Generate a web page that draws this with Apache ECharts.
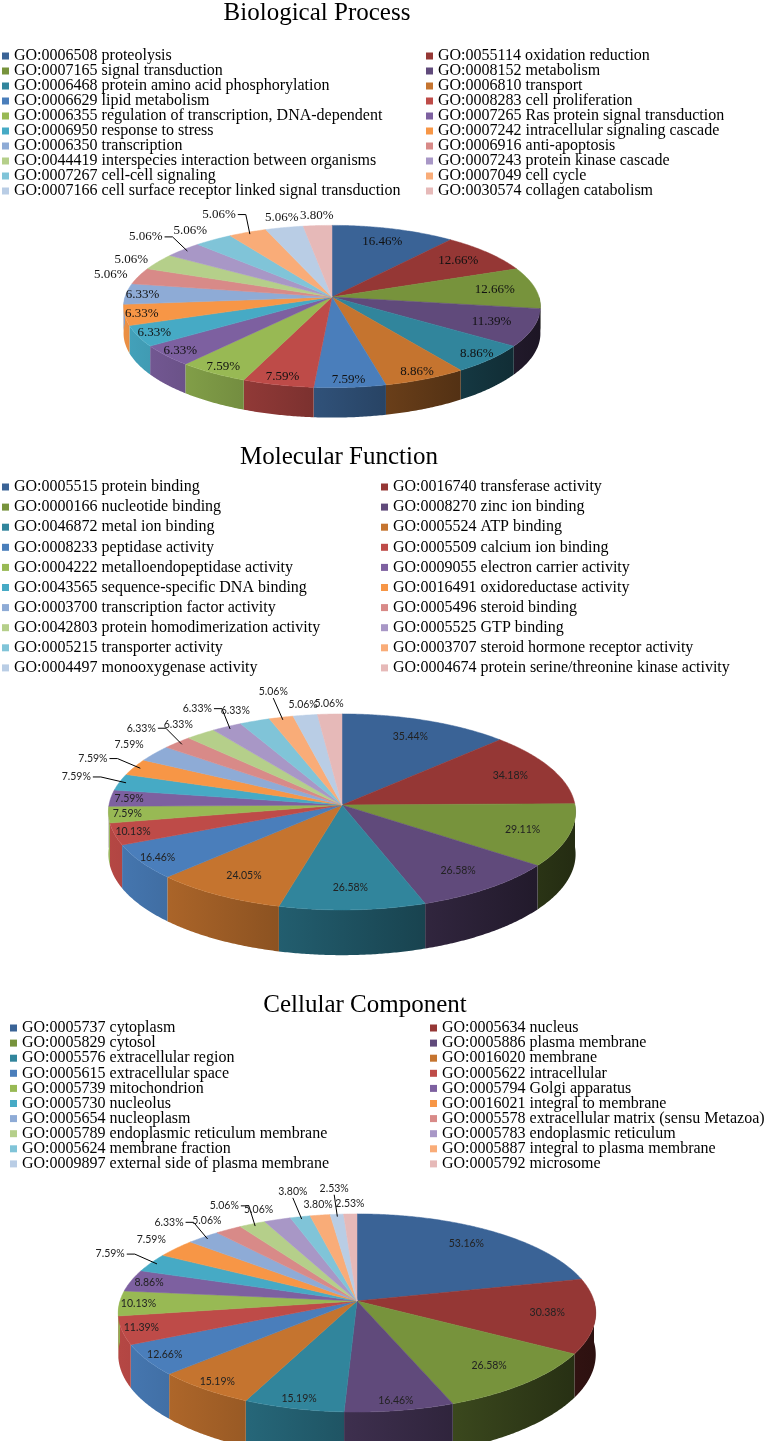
<!DOCTYPE html>
<html>
<head>
<meta charset="utf-8">
<script src="https://cdn.jsdelivr.net/npm/echarts@6/dist/echarts.min.js"></script>
<style>
  html, body { margin: 0; padding: 0; background: #fff; }
  #chart { width: 772px; height: 1441px; }
</style>
</head>
<body>
<div id="chart"></div>
<script>
// Biological Process
const bpNames = [
  'GO:0006508 proteolysis',
  'GO:0055114 oxidation reduction',
  'GO:0007165 signal transduction',
  'GO:0008152 metabolism',
  'GO:0006468 protein amino acid phosphorylation',
  'GO:0006810 transport',
  'GO:0006629 lipid metabolism',
  'GO:0008283 cell proliferation',
  'GO:0006355 regulation of transcription, DNA-dependent',
  'GO:0007265 Ras protein signal transduction',
  'GO:0006950 response to stress',
  'GO:0007242 intracellular signaling cascade',
  'GO:0006350 transcription',
  'GO:0006916 anti-apoptosis',
  'GO:0044419 interspecies interaction between organisms',
  'GO:0007243 protein kinase cascade',
  'GO:0007267 cell-cell signaling',
  'GO:0007049 cell cycle',
  'GO:0007166 cell surface receptor linked signal transduction',
  'GO:0030574 collagen catabolism'
];
const bpValues = [16.46, 12.66, 12.66, 11.39, 8.86, 8.86, 7.59, 7.59, 7.59, 6.33,
                  6.33, 6.33, 6.33, 5.06, 5.06, 5.06, 5.06, 5.06, 5.06, 3.80];

// Molecular Function
const mfNames = [
  'GO:0005515 protein binding',
  'GO:0016740 transferase activity',
  'GO:0000166 nucleotide binding',
  'GO:0008270 zinc ion binding',
  'GO:0046872 metal ion binding',
  'GO:0005524 ATP binding',
  'GO:0008233 peptidase activity',
  'GO:0005509 calcium ion binding',
  'GO:0004222 metalloendopeptidase activity',
  'GO:0009055 electron carrier activity',
  'GO:0043565 sequence-specific DNA binding',
  'GO:0016491 oxidoreductase activity',
  'GO:0003700 transcription factor activity',
  'GO:0005496 steroid binding',
  'GO:0042803 protein homodimerization activity',
  'GO:0005525 GTP binding',
  'GO:0005215 transporter activity',
  'GO:0003707 steroid hormone receptor activity',
  'GO:0004497 monooxygenase activity',
  'GO:0004674 protein serine/threonine kinase activity'
];
const mfValues = [35.44, 34.18, 29.11, 26.58, 26.58, 24.05, 16.46, 10.13, 7.59, 7.59,
                  7.59, 7.59, 7.59, 6.33, 6.33, 6.33, 6.33, 5.06, 5.06, 5.06];

// Cellular Component
const ccNames = [
  'GO:0005737 cytoplasm',
  'GO:0005634 nucleus',
  'GO:0005829 cytosol',
  'GO:0005886 plasma membrane',
  'GO:0005576 extracellular region',
  'GO:0016020 membrane',
  'GO:0005615 extracellular space',
  'GO:0005622 intracellular',
  'GO:0005739 mitochondrion',
  'GO:0005794 Golgi apparatus',
  'GO:0005730 nucleolus',
  'GO:0016021 integral to membrane',
  'GO:0005654 nucleoplasm',
  'GO:0005578 extracellular matrix (sensu Metazoa)',
  'GO:0005789 endoplasmic reticulum membrane',
  'GO:0005783 endoplasmic reticulum',
  'GO:0005624 membrane fraction',
  'GO:0005887 integral to plasma membrane',
  'GO:0009897 external side of plasma membrane',
  'GO:0005792 microsome'
];
const ccValues = [53.16, 30.38, 26.58, 16.46, 15.19, 15.19, 12.66, 11.39, 10.13, 8.86,
                  7.59, 7.59, 6.33, 5.06, 5.06, 5.06, 3.80, 3.80, 2.53, 2.53];

const palette = ['#3A6396', '#953735', '#77933C', '#604A7B', '#31859C', '#C5742F',
                 '#4A7EBB', '#BE4B48', '#98B954', '#7D60A0', '#46AAC5', '#F79646',
                 '#8EABD6', '#D88A88', '#B5CF8A', '#A897C6', '#80C4D8', '#F9AC78',
                 '#B9CDE5', '#E6B9B8'];

// layout of the three tilted pies
const pies = [
  { title: 'Biological Process', names: bpNames, values: bpValues,
    titleX: 317, titleY: 1, legendTop: 48, legendLeft: [2, 426], legendGap: -1,
    center: [332, 297], rx: 207, ry: 80, k: 0.117, depth: 26.5,
    outsideFrom: 13, far: [15, 17], font: '13px "Liberation Serif"', labelColor: '#111' },
  { title: 'Molecular Function', names: mfNames, values: mfValues,
    titleX: 339, titleY: 445, legendTop: 479, legendLeft: [2, 381], legendGap: 4.1,
    center: [342, 805], rx: 233, ry: 97.5, k: 0.071, depth: 42,
    outsideFrom: 10, far: [10, 11, 13, 15, 17], font: '10.5px Lato', labelColor: '#222' },
  { title: 'Cellular Component', names: ccNames, values: ccValues,
    titleX: 365, titleY: 993, legendTop: 1020, legendLeft: [10, 430], legendGap: -0.9,
    center: [357, 1301], rx: 237, ry: 97.6, k: 0.121, depth: 41,
    outsideFrom: 10, far: [10, 12, 14, 16, 18], font: '10.5px Lato', labelColor: '#222' }
];

function shade(hex, f) {
  const n = parseInt(hex.slice(1), 16);
  const r = Math.round(((n >> 16) & 255) * f);
  const g = Math.round(((n >> 8) & 255) * f);
  const b = Math.round((n & 255) * f);
  return 'rgb(' + r + ',' + g + ',' + b + ')';
}

function sum(arr) { return arr.reduce((a, b) => a + b, 0); }

function pieRenderer(p) {
  const total = sum(p.values);
  return function (params, api) {
    const i = params.dataIndex;
    const a0 = api.value(0), a1 = api.value(1), val = api.value(2);
    const c = api.coord([0, 0]);
    const e = api.coord([1, 0]);
    const R = Math.hypot(e[0] - c[0], e[1] - c[1]);
    const unit = a => {
      const q = api.coord([1, a]);
      return [(q[0] - c[0]) / R, (q[1] - c[1]) / R];
    };
    // tilt the flat polar disc into a perspective ellipse
    const proj = (u, v, dz) => {
      const w = 1 - p.k * v;
      return [c[0] + p.rx * u / w, c[1] + (p.ry * v + dz) / w];
    };
    const col = palette[i];
    const children = [];

    // outer wall, only the front half is seen
    const f0 = Math.max(a0, total / 4), f1 = Math.min(a1, total * 3 / 4);
    if (f1 > f0) {
      const m = Math.max(2, Math.ceil((f1 - f0) / total * 720));
      const up = [], down = [];
      for (let s = 0; s <= m; s++) {
        const uv = unit(f0 + (f1 - f0) * s / m);
        up.push(proj(uv[0], uv[1], 0));
        down.push(proj(uv[0], uv[1], p.depth));
      }
      const grad = new echarts.graphic.LinearGradient(c[0] - p.rx, 0, c[0] + p.rx, 0, [
        { offset: 0, color: shade(col, 0.95) },
        { offset: 0.5, color: shade(col, 0.62) },
        { offset: 1, color: shade(col, 0.3) }
      ], true);
      children.push({ type: 'polygon', z2: 0, shape: { points: up.concat(down.reverse()) },
        style: { fill: grad, stroke: null } });
    }

    // top face
    const n = Math.max(2, Math.ceil((a1 - a0) / total * 720));
    const top = [[c[0], c[1]]];
    for (let s = 0; s <= n; s++) {
      const uv = unit(a0 + (a1 - a0) * s / n);
      top.push(proj(uv[0], uv[1], 0));
    }
    children.push({ type: 'polygon', z2: 1, shape: { points: top },
      style: { fill: col, stroke: col, lineWidth: 0.5 } });

    // data label
    const um = unit((a0 + a1) / 2);
    const deg = (a1 - a0) / total * 360;
    const text = val.toFixed(2) + '%';
    if (i < p.outsideFrom) {
      const r = deg > 25 ? 0.8 : 0.92;
      const pos = proj(um[0] * r, um[1] * r, 0);
      children.push({ type: 'text', z2: 3, style: { text: text, x: pos[0], y: pos[1],
        font: p.font, fill: p.labelColor, align: 'center', verticalAlign: 'middle' } });
    } else {
      const isFar = p.far.indexOf(i) >= 0;
      const near = proj(um[0] * 1.06, um[1] * 1.06, 0);
      const pos = isFar ? [near[0] + 16 * um[0], near[1] + 16 * um[1]] : near;
      const sideways = Math.abs(um[0]) >= 0.3;
      const align = um[0] < -0.3 ? 'right' : (um[0] > 0.3 ? 'left' : 'center');
      let vAlign = um[1] < -0.5 ? 'bottom' : 'middle';
      if (isFar && sideways) vAlign = 'middle';
      children.push({ type: 'text', z2: 3, style: { text: text, x: pos[0], y: pos[1],
        font: p.font, fill: p.labelColor, align: align, verticalAlign: vAlign } });
      if (isFar) {
        const rim = proj(um[0] * 0.97, um[1] * 0.97, 0);
        const start = sideways ? [pos[0] + 2, pos[1]] : [pos[0], pos[1] + 1];
        const pts = sideways ? [start, [start[0] + 8, start[1]], rim] : [start, rim];
        children.push({ type: 'polyline', z2: 3, shape: { points: pts },
          style: { stroke: '#000', lineWidth: 1, fill: null } });
      }
    }
    return { type: 'group', children: children };
  };
}

const chart = echarts.init(document.getElementById('chart'), null, { renderer: 'canvas' });

const titleFont = { fontFamily: '"Liberation Serif", "Times New Roman", serif', fontSize: 25,
                    fontWeight: 'normal', color: '#000' };
const legendText = { fontFamily: '"Liberation Serif", "Times New Roman", serif', fontSize: 16,
                     color: '#000', lineHeight: 15 };

const titles = [], legends = [], polars = [], angleAxes = [], radiusAxes = [], series = [];

pies.forEach((p, idx) => {
  titles.push({ text: p.title, left: p.titleX, top: p.titleY, textAlign: 'center',
                padding: 0, textStyle: titleFont });

  [0, 1].forEach(col => {
    legends.push({
      orient: 'vertical', left: p.legendLeft[col], top: p.legendTop, padding: 0,
      itemGap: p.legendGap, itemWidth: 7, itemHeight: 7, icon: 'rect',
      selectedMode: false, textStyle: legendText,
      data: p.names.filter((_, j) => j % 2 === col)
    });
  });

  polars.push({ center: p.center, radius: 100 });
  angleAxes.push({ polarIndex: idx, type: 'value', min: 0, max: sum(p.values),
                   startAngle: 90, clockwise: true, show: false });
  radiusAxes.push({ polarIndex: idx, type: 'value', min: 0, max: 1, show: false });

  let acc = 0;
  const data = p.values.map((v, j) => {
    const s = acc;
    acc += v;
    return { name: p.names[j], value: [s, acc, v] };
  });
  series.push({ type: 'custom', name: p.title, coordinateSystem: 'polar', polarIndex: idx,
                renderItem: pieRenderer(p), data: data, silent: true });

  // off-screen pie only feeds the legend with names and colours
  series.push({ type: 'pie', name: p.title + ' legend', center: [-500, -500], radius: 1,
                silent: true, label: { show: false }, labelLine: { show: false },
                data: p.values.map((v, j) => ({ name: p.names[j], value: v,
                                                 itemStyle: { color: palette[j] } })) });
});

chart.setOption({
  animation: false,
  backgroundColor: '#fff',
  title: titles,
  legend: legends,
  polar: polars,
  angleAxis: angleAxes,
  radiusAxis: radiusAxes,
  series: series
});
</script>
</body>
</html>
